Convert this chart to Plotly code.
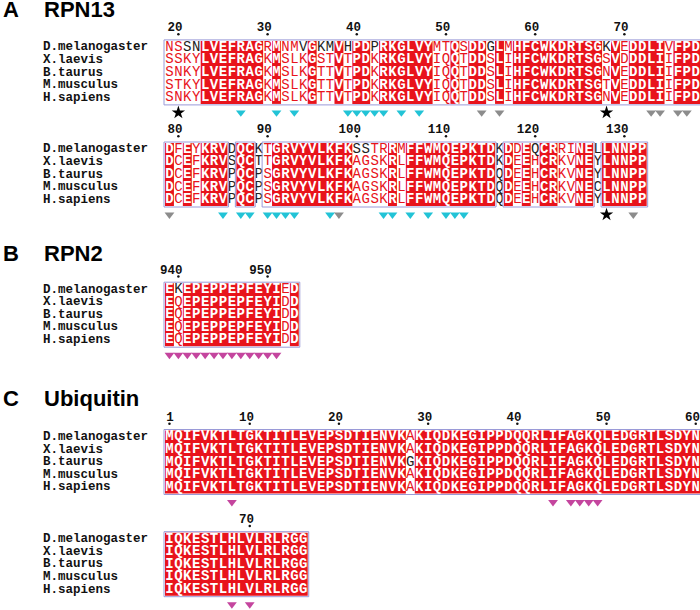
import plotly.graph_objects as go

# --- Datos del alineamiento ---

especies = ['D.melanogaster', 'X.laevis', 'B.taurus', 'M.musculus', 'H.sapiens']

rpn13_seq1 = [
    'NSSNLVEFRAGRMNMVGKMVHPDPRKGLVYMTQSDDGLMHFCWKDRTSGKVEDDLIVFPD',
    'SSKYLVEFRAGKMSLKGSTVTPDKRKGLVYIQQTDDSLIHFCWKDRTSGSVDDDLIIFPD',
    'SNKYLVEFRAGKMSLKGTTVTPDKRKGLVYIQQTDDSLIHFCWKDRTSGNVEDDLIIFPD',
    'STKYLVEFRAGKMSLKGTTVTPDKRKGLVYIQQTDDSLIHFCWKDRTSGTVEDDLIIFPD',
    'SNKYLVEFRAGKMSLKGTTVTPDKRKGLVYIQQTDDSLIHFCWKDRTSGNVEDDLIIFPD',
]
rpn13_inicio1 = 19
rpn13_negras1 = [(0, 21), (0, 22), (0, 34), (0, 36), (0, 37), (0, 39), (0, 42), (0, 55), (0, 68)]
rpn13_sin_caja1 = []
rpn13_cian1 = [27, 31, 33, 39, 40, 41, 42, 43, 45, 47]
rpn13_gris1 = [54, 56, 73, 74, 76, 77]
rpn13_estrella1 = [20, 68]

rpn13_seq2 = [
    'DFEYKRVDQCKTGRVYVLKFKSSTRRMFFWMQEPKTDKDDEQCRRINELLNNPP',
    'DCEFKRVSQCTTGRVYVLKFKAGSKRLFFWMQEPKTDKDEEHCRKVNEYLNNPP',
    'DCEFKRVPQCPSGRVYVLKFKAGSKRLFFWMQEPKTDQDEEHCRKVNEYLNNPP',
    'DCEFKRVPQCPSGRVYVLKFKAGSKRLFFWMQEPKTDQDEEHCRKVNECLNNPP',
    'DCEFKRVPQCPSGRVYVLKFKAGSKRLFFWMQEPKTDQDEEHCRKVNEYLNNPP',
]
rpn13_inicio2 = 79
rpn13_negras2 = [(0, 100), (0, 101), (0, 120)]
rpn13_sin_caja2 = [86, 89, 116, 127]
rpn13_cian2 = [85, 87, 88, 90, 91, 92, 93, 97, 103, 104, 106, 108, 110, 111, 112]
rpn13_gris2 = [79, 98, 131]
rpn13_estrella2 = [128]

rpn2_seq = [
    'EKEPEPPEPFEYIED',
    'EQEPEPPEPFEYIDD',
    'EQEPEPPEPFEYIDD',
    'EQEPEPPEPFEYIDD',
    'EQEPEPPEPFEYIDD',
]
rpn2_inicio = 939
rpn2_negras = [(0, 940)]
rpn2_magenta = [939, 940, 941, 942, 943, 944, 945, 946, 947, 948, 949, 950, 951]

ubq_seq1 = [
    'MQIFVKTLTGKTITLEVEPSDTIENVKAKIQDKEGIPPDQQRLIFAGKQLEDGRTLSDYN',
    'MQIFVKTLTGKTITLEVEPSDTIENVKAKIQDKEGIPPDQQRLIFAGKQLEDGRTLSDYN',
    'MQIFVKTLTGKTITLEVEPSDTIENVKGKIQDKEGIPPDQQRLIFAGKQLEDGRTLSDYN',
    'MQIFVKTLTGKTITLEVEPSDTIENVKAKIQDKEGIPPDQQRLIFAGKQLEDGRTLSDYN',
    'MQIFVKTLTGKTITLEVEPSDTIENVKAKIQDKEGIPPDQQRLIFAGKQLEDGRTLSDYN',
]
ubq_inicio1 = 1
ubq_negras1 = [(2, 28)]
ubq_magenta1 = [8, 44, 46, 47, 48, 49]

ubq_seq2 = ['IQKESTLHLVLRLRGG'] * 5
ubq_inicio2 = 61
ubq_magenta2 = [68, 70]

titulos = [('A', 'RPN13'), ('B', 'RPN2'), ('C', 'Ubiquitin')]

# --- Geometría y estilo ---
X0 = 165.0      # borde izquierdo de la primera columna
CW = 8.92       # ancho de columna
DY = 12.6       # separación entre filas
ROJO = '#e8131b'
AZUL = '#9a9ad8'
CIAN = '#22c3d6'
GRIS = '#8c8c8c'
MAGENTA = '#c4459e'

bloques = [
    dict(seq=rpn13_seq1, inicio=rpn13_inicio1, y=47.2, negras=rpn13_negras1, sin_caja=rpn13_sin_caja1,
         marcas=[(rpn13_cian1, CIAN, 'triangle-down'), (rpn13_gris1, GRIS, 'triangle-down'),
                 (rpn13_estrella1, 'black', 'star')]),
    dict(seq=rpn13_seq2, inicio=rpn13_inicio2, y=149.3, negras=rpn13_negras2, sin_caja=rpn13_sin_caja2,
         marcas=[(rpn13_cian2, CIAN, 'triangle-down'), (rpn13_gris2, GRIS, 'triangle-down'),
                 (rpn13_estrella2, 'black', 'star')]),
    dict(seq=rpn2_seq, inicio=rpn2_inicio, y=289.5, negras=rpn2_negras, sin_caja=[],
         marcas=[(rpn2_magenta, MAGENTA, 'triangle-down')]),
    dict(seq=ubq_seq1, inicio=ubq_inicio1, y=436.8, negras=ubq_negras1, sin_caja=[],
         marcas=[(ubq_magenta1, MAGENTA, 'triangle-down')]),
    dict(seq=ubq_seq2, inicio=ubq_inicio2, y=539.0, negras=[], sin_caja=[],
         marcas=[(ubq_magenta2, MAGENTA, 'triangle-down')]),
]
y_titulos = [9.5, 253.0, 398.0]


def cx(i):
    return X0 + CW * (i + 0.5)


def tramos(flags):
    # devuelve (inicio, fin) de tramos consecutivos con flag True
    res, ini = [], None
    for i, f in enumerate(flags + [False]):
        if f and ini is None:
            ini = i
        elif not f and ini is not None:
            res.append((ini, i - 1))
            ini = None
    return res


fig = go.Figure()
shapes = []
txt = {'blanco': ([], [], []), 'rojo': ([], [], []), 'negro': ([], [], [])}
nombres_x, nombres_y, nombres_t = [], [], []
num_x, num_y, num_t = [], [], []
punto_x, punto_y = [], []

for b in bloques:
    seqs, inicio, y0 = b['seq'], b['inicio'], b['y']
    n = len(seqs[0])
    nfil = len(seqs)
    identica = [len(set(s[i] for s in seqs)) == 1 for i in range(n)]
    caja = [(inicio + i) not in b['sin_caja'] for i in range(n)]
    negras = set(b['negras'])

    y_top = y0 - DY / 2
    y_bot = y0 + (nfil - 1) * DY + DY / 2
    for a, z in tramos(identica):
        shapes.append(dict(type='rect', xref='x', yref='y', layer='below',
                           x0=X0 + CW * a, x1=X0 + CW * (z + 1), y0=y_top, y1=y_bot,
                           fillcolor=ROJO, line=dict(width=0)))
    for a, z in tramos(caja):
        shapes.append(dict(type='rect', xref='x', yref='y', layer='above',
                           x0=X0 + CW * a - 1, x1=X0 + CW * (z + 1) + 1, y0=y_top - 1, y1=y_bot + 1,
                           fillcolor='rgba(0,0,0,0)', line=dict(color=AZUL, width=1)))

    for r, s in enumerate(seqs):
        yy = y0 + r * DY
        nombres_x.append(43)
        nombres_y.append(yy)
        nombres_t.append(especies[r])
        for i, c in enumerate(s):
            if identica[i]:
                k = 'blanco'
            elif not caja[i] or (r, inicio + i) in negras:
                k = 'negro'
            else:
                k = 'rojo'
            txt[k][0].append(cx(i))
            txt[k][1].append(yy)
            txt[k][2].append(c)

    ticks = [v for v in range(inicio, inicio + n) if v % 10 == 0 or v == 1]
    for v in ticks:
        i = v - inicio
        num_x.append(cx(i) + 4.2)
        num_y.append(y0 - 19)
        num_t.append(str(v))
        punto_x.append(cx(i))
        punto_y.append(y0 - 13)

    y_marca = y0 + (nfil - 1) * DY + 15
    for lista, color, simbolo in b['marcas']:
        fig.add_trace(go.Scatter(
            x=[cx(v - inicio) for v in lista], y=[y_marca] * len(lista),
            mode='markers', hoverinfo='skip',
            marker=dict(symbol=simbolo, color=color, size=10 if simbolo == 'star' else 8.5,
                        line=dict(width=0))))

estilos = {'blanco': ('white', 'bold'), 'rojo': (ROJO, 'normal'), 'negro': ('#222222', 'normal')}
for k, (xs, ys, ts) in txt.items():
    color, peso = estilos[k]
    fig.add_trace(go.Scatter(
        x=xs, y=ys, text=ts, mode='text', hoverinfo='skip', textposition='middle center',
        textfont=dict(family='Liberation Mono', size=14, color=color, weight=peso)))

fig.add_trace(go.Scatter(
    x=nombres_x, y=nombres_y, text=nombres_t, mode='text', hoverinfo='skip',
    textposition='middle right',
    textfont=dict(family='Liberation Mono', size=12.5, color='#111111', weight='bold')))

fig.add_trace(go.Scatter(
    x=num_x, y=num_y, text=num_t, mode='text', hoverinfo='skip', textposition='middle left',
    textfont=dict(family='Liberation Mono', size=12.5, color='#111111', weight='bold')))

fig.add_trace(go.Scatter(
    x=punto_x, y=punto_y, mode='markers', hoverinfo='skip',
    marker=dict(symbol='circle', size=2.5, color='#111111')))

for (letra, nombre), yt in zip(titulos, y_titulos):
    fig.add_annotation(x=1, y=yt, xref='x', yref='y', text=f'<b>{letra}</b>', showarrow=False,
                       xanchor='left', yanchor='middle',
                       font=dict(family='Liberation Sans', size=22, color='black'))
    fig.add_annotation(x=42, y=yt, xref='x', yref='y', text=f'<b>{nombre}</b>', showarrow=False,
                       xanchor='left', yanchor='middle',
                       font=dict(family='Liberation Sans', size=22, color='black'))

fig.update_layout(
    width=700, height=610,
    margin=dict(l=0, r=0, t=0, b=0),
    plot_bgcolor='white', paper_bgcolor='white',
    showlegend=False,
    shapes=shapes,
    xaxis=dict(range=[0, 700], visible=False, fixedrange=True),
    yaxis=dict(range=[610, 0], visible=False, fixedrange=True),
)

# sin margen en el body para que la figura ocupe la ventana entera
fig.write_html('out.html', config={'displayModeBar': False},
               post_script="document.body.style.margin='0';")
